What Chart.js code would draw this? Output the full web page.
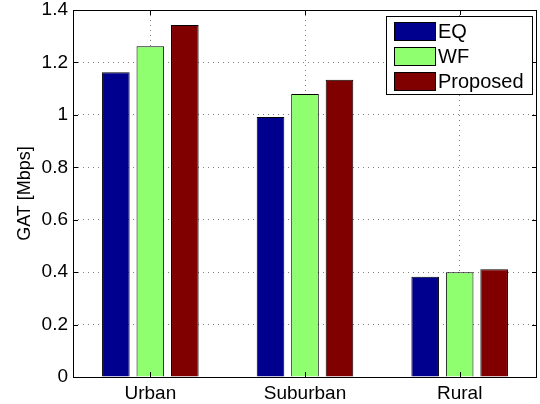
<!DOCTYPE html>
<html>
<head>
<meta charset="utf-8">
<script src="https://cdn.jsdelivr.net/npm/chart.js@4/dist/chart.umd.min.js"></script>
<style>
  html, body { margin: 0; padding: 0; background: #fff; }
  #wrap { width: 540px; height: 404px; }
</style>
</head>
<body>
<div id="wrap"><canvas id="gatChart"></canvas></div>
<script>
"use strict";

const categories = ["Urban", "Suburban", "Rural"];
const seriesNames = ["EQ", "WF", "Proposed"];
const eqValues = [1.163, 0.992, 0.382];
const wfValues = [1.262, 1.080, 0.400];
const proposedValues = [1.343, 1.134, 0.411];
const yTicks = [0, 0.2, 0.4, 0.6, 0.8, 1, 1.2, 1.4];

const FONT = "'Liberation Sans', Arial, Helvetica, sans-serif";
const colors = ["#00008F", "#8FFF70", "#800000"];
const seriesValues = [eqValues, wfValues, proposedValues];

// box round the plot, inward ticks on all four sides
const boxPlugin = {
    id: "matlabBox",
    afterDraw(chart) {
        const { ctx, chartArea: a, scales } = chart;
        ctx.save();
        ctx.strokeStyle = "#000";
        ctx.lineWidth = 1;
        ctx.strokeRect(a.left + 0.5, a.top + 0.5, a.right - a.left - 1, a.bottom - a.top);
        const t = 5;
        ctx.beginPath();
        yTicks.forEach(v => {
            const y = Math.round(scales.y.getPixelForValue(v)) + 0.5;
            ctx.moveTo(a.left, y); ctx.lineTo(a.left + t, y);
            ctx.moveTo(a.right, y); ctx.lineTo(a.right - t, y);
        });
        categories.forEach((c, i) => {
            const x = Math.round(scales.x.getPixelForTick(i)) + 0.5;
            ctx.moveTo(x, a.bottom); ctx.lineTo(x, a.bottom - t);
            ctx.moveTo(x, a.top); ctx.lineTo(x, a.top + t);
        });
        ctx.stroke();
        ctx.restore();
    }
};

// legend drawn inside the plot, top right
const legendPlugin = {
    id: "insideLegend",
    afterDraw(chart) {
        const { ctx, chartArea: a } = chart;
        const bx = a.right - 151, by = a.top + 6, bw = 146, bh = 78;
        ctx.save();
        ctx.fillStyle = "#fff";
        ctx.fillRect(bx, by, bw, bh);
        ctx.strokeStyle = "#000";
        ctx.lineWidth = 1;
        ctx.strokeRect(bx + 0.5, by + 0.5, bw, bh);
        ctx.font = "20px " + FONT;
        ctx.textBaseline = "middle";
        chart.data.datasets.forEach((ds, i) => {
            const cy = by + 15 + i * 25;
            ctx.fillStyle = ds.backgroundColor;
            ctx.fillRect(bx + 8, cy - 9, 41, 18);
            ctx.strokeRect(bx + 8.5, cy - 8.5, 41, 18);
            ctx.fillStyle = "#000";
            ctx.fillText(ds.label, bx + 52, cy + 1);
        });
        ctx.restore();
    }
};

new Chart(document.getElementById("gatChart"), {
    type: "bar",
    data: {
        labels: categories,
        datasets: seriesNames.map((name, i) => ({
            label: name,
            data: seriesValues[i],
            backgroundColor: colors[i],
            borderColor: "#000",
            borderWidth: 1,
            categoryPercentage: 0.669,
            barPercentage: 0.8
        }))
    },
    options: {
        responsive: true,
        maintainAspectRatio: false,
        animation: false,
        layout: { padding: { top: 0, right: 3, left: 0, bottom: 0 } },
        plugins: { legend: { display: false }, tooltip: { enabled: false } },
        scales: {
            x: {
                offset: true,
                grid: { offset: false, drawTicks: false, color: "rgba(0,0,0,0.5)" },
                border: { display: false, dash: [1, 4] },
                ticks: { color: "#000", font: { family: FONT, size: 19 }, padding: 5 },
                afterFit: s => { s.height = 27; }
            },
            y: {
                min: 0, max: 1.4,
                afterBuildTicks: s => { s.ticks = yTicks.map(v => ({ value: v })); },
                grid: { drawTicks: false, color: "rgba(0,0,0,0.5)" },
                border: { display: false, dash: [1, 4] },
                ticks: {
                    color: "#000", font: { family: FONT, size: 19 }, padding: 5,
                    callback: v => String(Number(v.toFixed(1)))
                },
                title: {
                    display: true, text: "GAT [Mbps]", color: "#000",
                    font: { family: FONT, size: 18 }, padding: { top: 14, bottom: 0 }
                },
                afterFit: s => { s.width = 73; s.paddingTop = 10; s.paddingBottom = 0; }
            }
        }
    },
    plugins: [boxPlugin, legendPlugin]
});
</script>
</body>
</html>
